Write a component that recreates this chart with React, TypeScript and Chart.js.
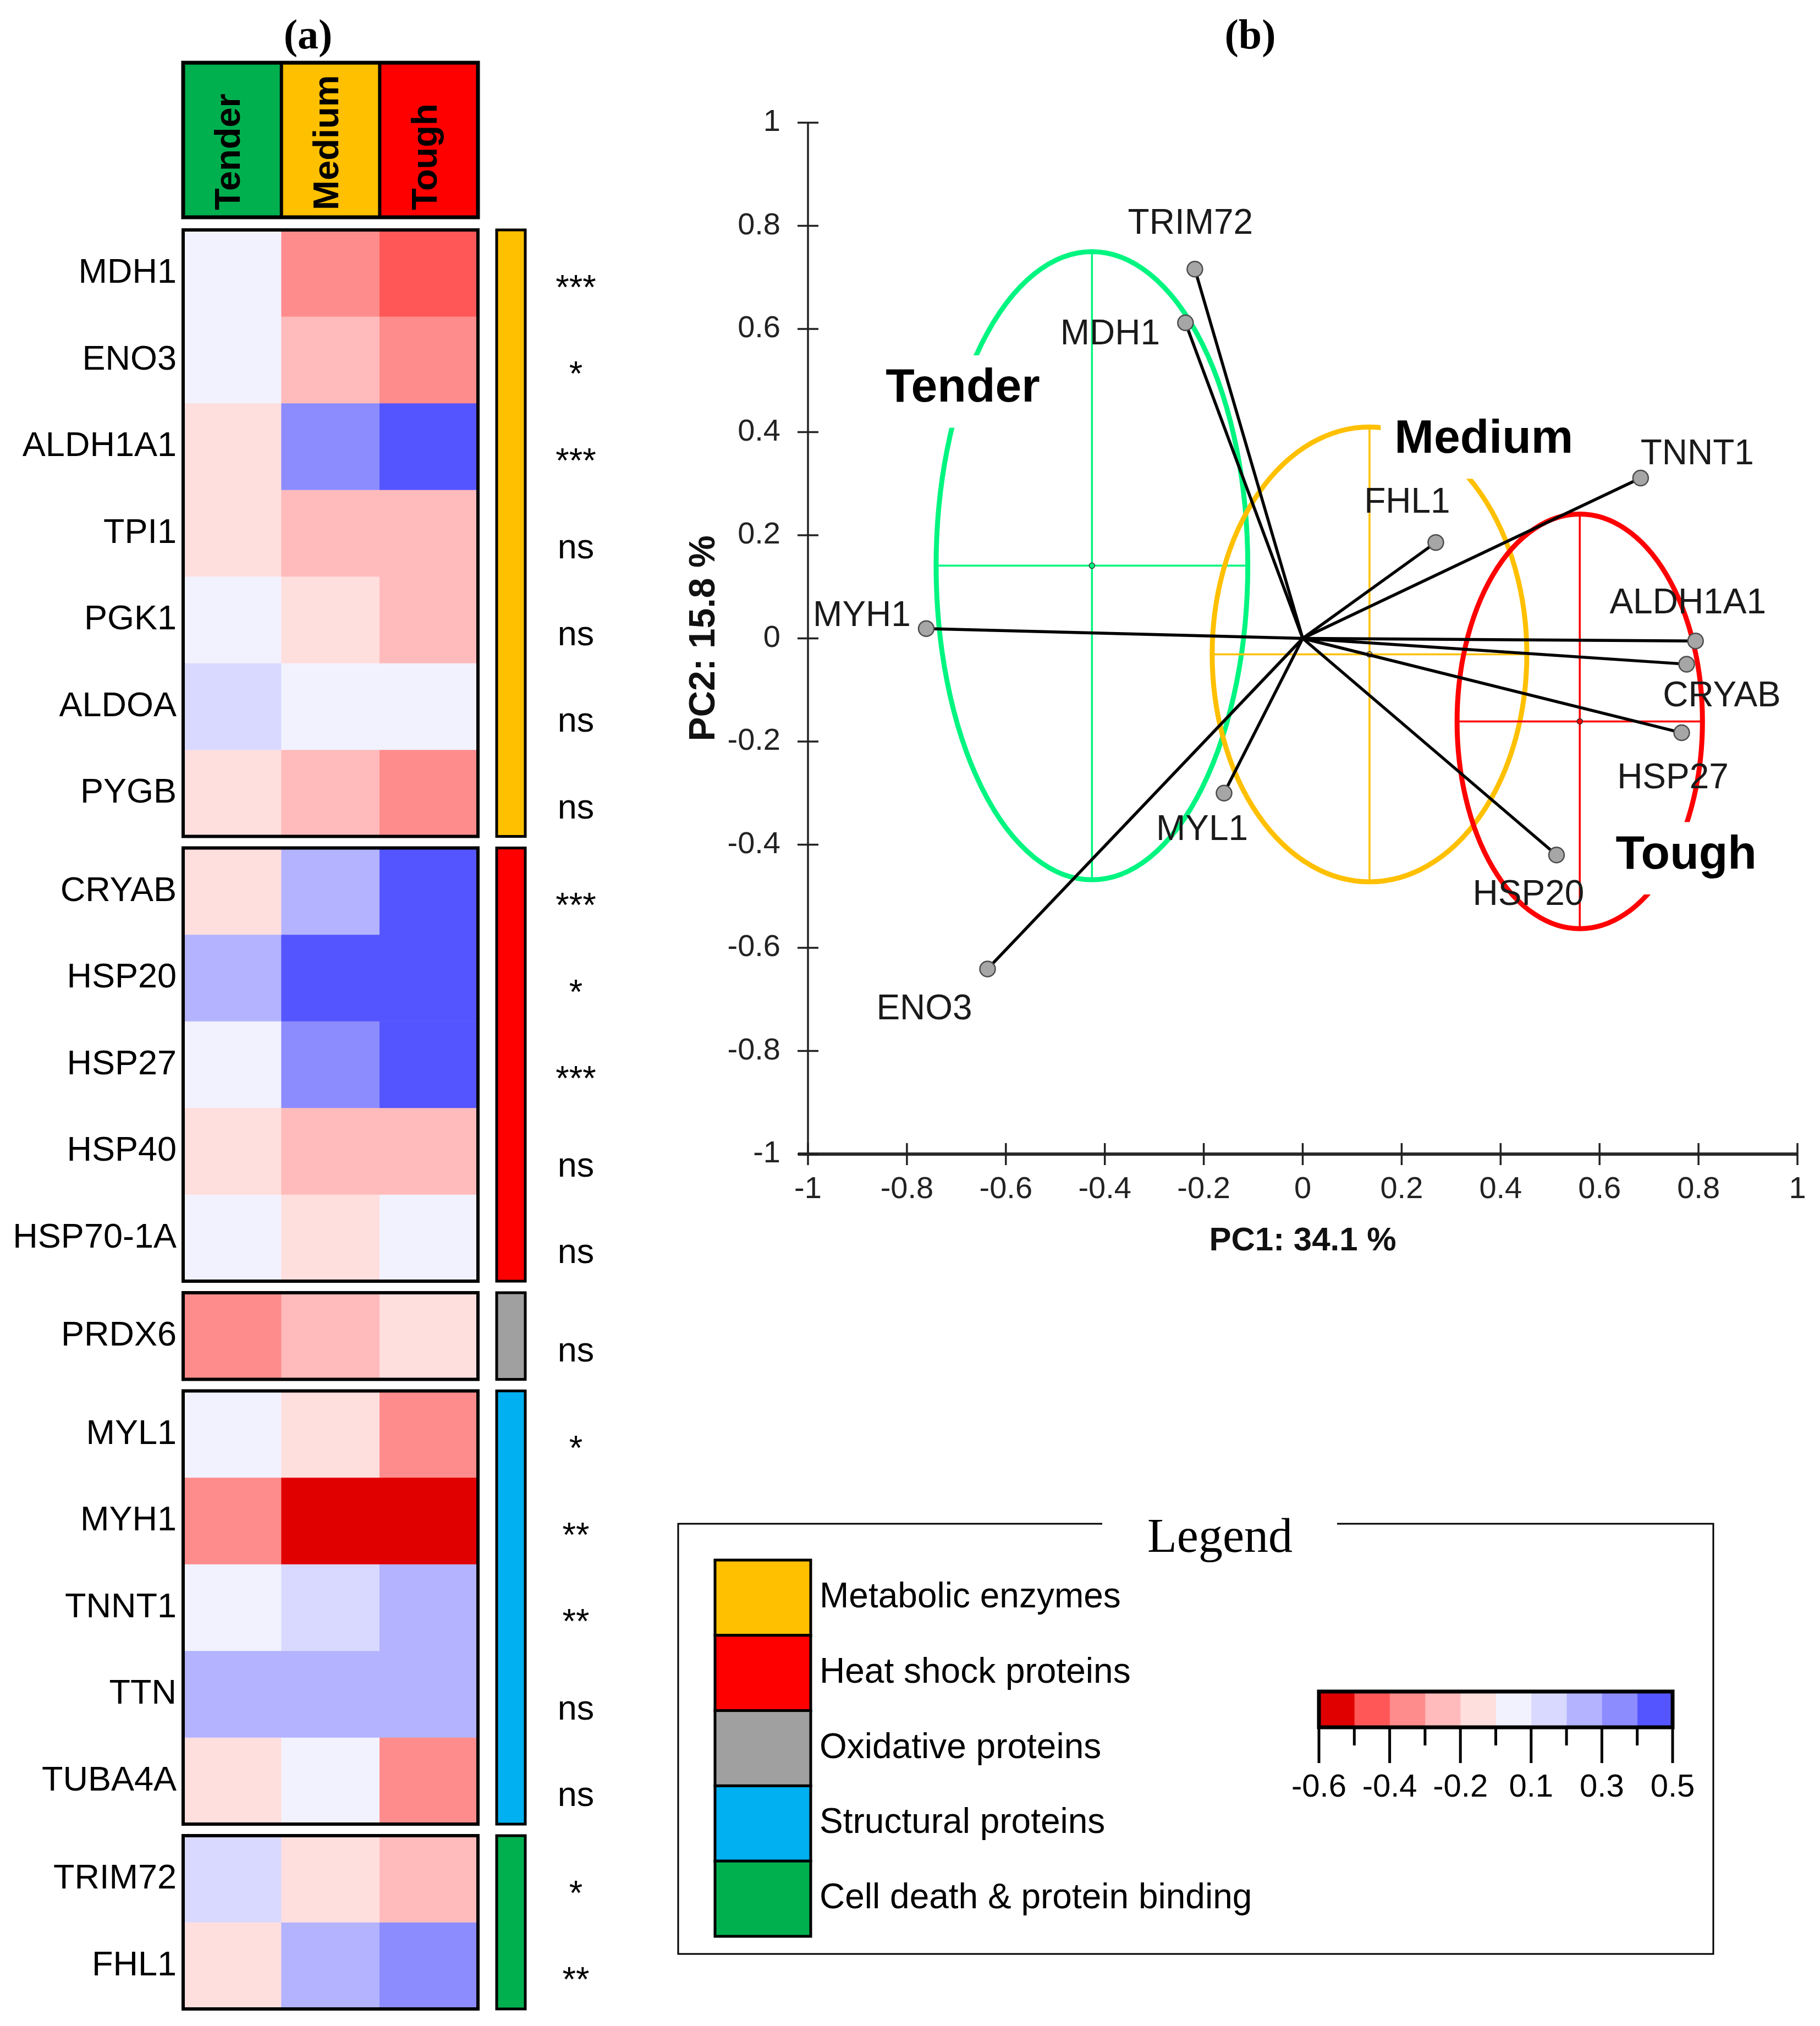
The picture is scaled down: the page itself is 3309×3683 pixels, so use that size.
import React, { useEffect, useRef } from 'react';
import { Chart, registerables } from 'chart.js';

Chart.register(...registerables);

const W = 3309;
const H = 3683;
const SANS = '"Liberation Sans", Arial, sans-serif';
const SERIF = '"Liberation Serif", "Times New Roman", serif';

// ---------------- Data: heatmap (a) ----------------
const conditions = ['Tender', 'Medium', 'Tough'];
const conditionColors = ['#00B04F', '#FFC000', '#FF0000'];
const genes = ['MDH1', 'ENO3', 'ALDH1A1', 'TPI1', 'PGK1', 'ALDOA', 'PYGB', 'CRYAB', 'HSP20', 'HSP27', 'HSP40', 'HSP70-1A', 'PRDX6', 'MYL1', 'MYH1', 'TNNT1', 'TTN', 'TUBA4A', 'TRIM72', 'FHL1'];
const tenderValues = [0.0, 0.02, -0.09, -0.08, 0.01, 0.1, -0.1, -0.08, 0.21, 0.01, -0.1, 0.0, -0.31, 0.02, -0.3, 0.03, 0.2, -0.09, 0.11, -0.1];
const mediumValues = [-0.32, -0.21, 0.33, -0.2, -0.1, 0.03, -0.21, 0.22, 0.44, 0.33, -0.2, -0.09, -0.2, -0.1, -0.55, 0.12, 0.21, 0.02, -0.08, 0.21];
const toughValues = [-0.45, -0.31, 0.46, -0.21, -0.2, 0.02, -0.32, 0.45, 0.47, 0.46, -0.2, 0.01, -0.1, -0.32, -0.56, 0.22, 0.2, -0.31, -0.2, 0.31];
const significance = ['***', '*', '***', 'ns', 'ns', 'ns', 'ns', '***', '*', '***', 'ns', 'ns', 'ns', '*', '**', '**', 'ns', 'ns', '*', '**'];
const geneGroup = [0, 0, 0, 0, 0, 0, 0, 1, 1, 1, 1, 1, 2, 3, 3, 3, 3, 3, 4, 4];
const groupNames = ['Metabolic enzymes', 'Heat shock proteins', 'Oxidative proteins', 'Structural proteins', 'Cell death & protein binding'];
const groupColors = ['#FFC000', '#FF0000', '#A0A0A0', '#00B0F0', '#00B04F'];

// colour scale
const colorBreaks = [-0.6, -0.49, -0.38, -0.27, -0.16, -0.05, 0.06, 0.17, 0.28, 0.39, 0.5];
const binColors = ['#E00000', '#FF5757', '#FF8C8C', '#FFBBBB', '#FFDEDE', '#F2F2FF', '#D9D9FF', '#B3B3FF', '#8C8CFF', '#5555FF'];
const colorbarLabels = ['-0.6', '-0.4', '-0.2', '0.1', '0.3', '0.5'];

// ---------------- Data: PCA biplot (b) ----------------
const pcaGenes = ['TRIM72', 'MDH1', 'TNNT1', 'FHL1', 'ALDH1A1', 'CRYAB', 'HSP27', 'HSP20', 'MYH1', 'MYL1', 'ENO3'];
const pc1 = [-0.218, -0.237, 0.683, 0.269, 0.794, 0.776, 0.766, 0.513, -0.761, -0.159, -0.637];
const pc2 = [0.716, 0.612, 0.311, 0.186, -0.005, -0.05, -0.183, -0.42, 0.019, -0.3, -0.641];
const groupCenterPC1 = [-0.426, 0.135, 0.56];
const groupCenterPC2 = [0.141, -0.031, -0.161];
const groupSpreadPC1 = [0.315, 0.318, 0.248];
const groupSpreadPC2 = [0.609, 0.441, 0.402];
const axisTicks = [-1, -0.8, -0.6, -0.4, -0.2, 0, 0.2, 0.4, 0.6, 0.8, 1];
const axisTickLabels = ['-1', '-0.8', '-0.6', '-0.4', '-0.2', '0', '0.2', '0.4', '0.6', '0.8', '1'];

// ---------------- Layout / style (not data) ----------------
const ellipseColors = ['#00F580', '#FFC000', '#FF0000'];
const groupLabelPC1 = [-0.687, 0.366, 0.775];
const groupLabelPC2 = [0.484, 0.385, -0.421];
const labelOffsetX = [-8, -137, 103, -52, -14, 64, -16, -51, -117, -40, -115];
const labelOffsetY = [-82, 22, -43, -72, -68, 59, 83, 73, -22, 68, 74];

const ROW_GAP = 21 / 157.5;
const HEADER_TOP = -1.93;
const HEADER_BOTTOM = -0.146;
const rowStart = genes.map((_, i) => i + geneGroup[i] * ROW_GAP);
const TOTAL_ROWS = genes.length + (groupNames.length - 1) * ROW_GAP;

function colorFor(v: number): string {
  for (let k = 0; k < binColors.length; k++) {
    if (v < colorBreaks[k + 1]) return binColors[k];
  }
  return binColors[binColors.length - 1];
}

// ---------------- Heatmap chart ----------------
const heatmapDecor = {
  id: 'heatmapDecor',
  afterDatasetsDraw(chart: any) {
    const ctx = chart.ctx as CanvasRenderingContext2D;
    const xs = chart.scales.x;
    const ys = chart.scales.y;
    const left = chart.chartArea.left;
    const right = chart.chartArea.right;
    ctx.save();
    ctx.strokeStyle = '#000';
    ctx.fillStyle = '#000';
    // header
    const hTop = ys.getPixelForValue(HEADER_TOP);
    const hBot = ys.getPixelForValue(HEADER_BOTTOM);
    ctx.lineWidth = 6;
    for (let i = 1; i < conditions.length; i++) {
      const bx = (xs.getPixelForValue(i - 1) + xs.getPixelForValue(i)) / 2;
      ctx.beginPath();
      ctx.moveTo(bx, hTop);
      ctx.lineTo(bx, hBot);
      ctx.stroke();
    }
    ctx.lineWidth = 7;
    ctx.strokeRect(left, hTop, right - left, hBot - hTop);
    ctx.font = `bold 65px ${SANS}`;
    conditions.forEach((c, i) => {
      const cx = xs.getPixelForValue(i) - 4;
      ctx.save();
      ctx.translate(cx, hBot - 13);
      ctx.rotate(-Math.PI / 2);
      ctx.textAlign = 'left';
      ctx.textBaseline = 'middle';
      ctx.fillText(c, 0, 0);
      ctx.restore();
    });
    // blocks + group bars
    groupNames.forEach((_, gi) => {
      const idx = genes.map((_g, i) => i).filter((i) => geneGroup[i] === gi);
      const y0 = ys.getPixelForValue(rowStart[idx[0]]);
      const y1 = ys.getPixelForValue(rowStart[idx[idx.length - 1]] + 1);
      ctx.lineWidth = 6;
      ctx.strokeRect(left, y0, right - left, y1 - y0);
      ctx.fillStyle = groupColors[gi];
      ctx.fillRect(right + 34, y0, 52, y1 - y0);
      ctx.lineWidth = 5;
      ctx.strokeRect(right + 34, y0, 52, y1 - y0);
    });
    // labels
    ctx.fillStyle = '#000';
    genes.forEach((g, i) => {
      const yc = ys.getPixelForValue(rowStart[i] + 0.5);
      ctx.font = `63px ${SANS}`;
      ctx.textAlign = 'right';
      ctx.textBaseline = 'middle';
      ctx.fillText(g, left - 12, yc);
      ctx.textAlign = 'center';
      ctx.textBaseline = 'alphabetic';
      ctx.fillText(significance[i], right + 178, yc + 46);
    });
    ctx.font = `bold 76px ${SERIF}`;
    ctx.textAlign = 'center';
    ctx.textBaseline = 'middle';
    ctx.fillText('(a)', 560, 68);
    ctx.restore();
  },
};

function makeHeatmap(canvas: HTMLCanvasElement) {
  const columns = [tenderValues, mediumValues, toughValues];
  const header = {
    label: 'header',
    data: conditions.map(() => [HEADER_TOP, HEADER_BOTTOM]),
    backgroundColor: conditionColors,
    borderWidth: 0,
    grouped: false,
    barPercentage: 1,
    categoryPercentage: 1,
  };
  const geneSets = genes.map((g, i) => ({
    label: g,
    data: conditions.map(() => [rowStart[i], rowStart[i] + 1]),
    backgroundColor: columns.map((col) => colorFor(col[i])),
    borderWidth: 0,
    grouped: false,
    barPercentage: 1,
    categoryPercentage: 1,
  }));
  return new Chart(canvas, {
    type: 'bar',
    data: { labels: conditions, datasets: [header, ...geneSets] as any },
    options: {
      responsive: false,
      animation: false,
      devicePixelRatio: 1,
      events: [],
      layout: { padding: { left: 333, right: W - 869, top: 114, bottom: H - 3652 } },
      plugins: { legend: { display: false }, tooltip: { enabled: false } },
      scales: {
        x: { type: 'category', display: false, offset: true },
        y: { type: 'linear', display: false, reverse: true, min: HEADER_TOP, max: TOTAL_ROWS },
      },
    } as any,
    plugins: [heatmapDecor],
  });
}

// ---------------- PCA chart ----------------
const pcaDecor = {
  id: 'pcaDecor',
  beforeDatasetsDraw(chart: any) {
    const ctx = chart.ctx as CanvasRenderingContext2D;
    const xs = chart.scales.x;
    const ys = chart.scales.y;
    ctx.save();
    // axes
    const ax = xs.getPixelForValue(-1);
    const ay = ys.getPixelForValue(-1);
    ctx.strokeStyle = '#222';
    ctx.lineWidth = 3.5;
    ctx.beginPath();
    ctx.moveTo(ax, ys.getPixelForValue(1));
    ctx.lineTo(ax, ay);
    ctx.stroke();
    ctx.lineWidth = 6;
    ctx.strokeStyle = '#2a2a2a';
    ctx.beginPath();
    ctx.moveTo(ax - 18, ay);
    ctx.lineTo(xs.getPixelForValue(1), ay);
    ctx.stroke();
    ctx.lineWidth = 3.5;
    ctx.strokeStyle = '#222';
    ctx.fillStyle = '#222';
    ctx.font = `56px ${SANS}`;
    axisTicks.forEach((t, i) => {
      const py = ys.getPixelForValue(t);
      ctx.beginPath();
      ctx.moveTo(ax - 19, py);
      ctx.lineTo(ax + 19, py);
      ctx.stroke();
      ctx.textAlign = 'right';
      ctx.textBaseline = 'middle';
      ctx.fillText(axisTickLabels[i], ax - 50, py);
      const px = xs.getPixelForValue(t);
      ctx.beginPath();
      ctx.moveTo(px, ay - 20);
      ctx.lineTo(px, ay + 20);
      ctx.stroke();
      ctx.textAlign = 'center';
      ctx.fillText(axisTickLabels[i], px, ay + 65);
    });
    ctx.fillStyle = '#111';
    ctx.font = `bold 60px ${SANS}`;
    ctx.textAlign = 'center';
    ctx.textBaseline = 'middle';
    ctx.fillText('PC1: 34.1 %', xs.getPixelForValue(0), ay + 158);
    ctx.save();
    ctx.translate(ax - 188, ys.getPixelForValue(0));
    ctx.rotate(-Math.PI / 2);
    ctx.font = `bold 66px ${SANS}`;
    ctx.fillText('PC2: 15.8 %', 0, 0);
    ctx.restore();

    // ellipses and crosshairs
    groupCenterPC1.forEach((cxv, g) => {
      const cyv = groupCenterPC2[g];
      const cx = xs.getPixelForValue(cxv);
      const cy = ys.getPixelForValue(cyv);
      const x0 = xs.getPixelForValue(cxv - groupSpreadPC1[g]);
      const x1 = xs.getPixelForValue(cxv + groupSpreadPC1[g]);
      const y0 = ys.getPixelForValue(cyv + groupSpreadPC2[g]);
      const y1 = ys.getPixelForValue(cyv - groupSpreadPC2[g]);
      ctx.strokeStyle = ellipseColors[g];
      ctx.lineWidth = 3.5;
      ctx.beginPath();
      ctx.moveTo(x0, cy);
      ctx.lineTo(x1, cy);
      ctx.moveTo(cx, y0);
      ctx.lineTo(cx, y1);
      ctx.stroke();
      ctx.lineWidth = 9;
      ctx.beginPath();
      ctx.ellipse(cx, cy, (x1 - x0) / 2, (y1 - y0) / 2, 0, 0, Math.PI * 2);
      ctx.stroke();
      ctx.fillStyle = ellipseColors[g];
      ctx.strokeStyle = '#333';
      ctx.lineWidth = 1.5;
      ctx.beginPath();
      ctx.arc(cx, cy, 5, 0, Math.PI * 2);
      ctx.fill();
      ctx.stroke();
    });

    // group labels on white boxes
    ctx.font = `bold 86px ${SANS}`;
    ctx.textAlign = 'center';
    ctx.textBaseline = 'middle';
    conditions.forEach((c, g) => {
      const px = xs.getPixelForValue(groupLabelPC1[g]);
      const py = ys.getPixelForValue(groupLabelPC2[g]);
      const w = ctx.measureText(c).width;
      const capH = 0.716 * 86;
      ctx.fillStyle = '#fff';
      ctx.fillRect(px - w / 2 - 25, py - capH / 2 - 30, w + 50, capH + 70);
      ctx.fillStyle = '#000';
      ctx.fillText(c, px, py);
    });
    ctx.restore();
  },
  afterDatasetsDraw(chart: any) {
    const ctx = chart.ctx as CanvasRenderingContext2D;
    const xs = chart.scales.x;
    const ys = chart.scales.y;
    ctx.save();
    ctx.fillStyle = '#1a1a1a';
    ctx.font = `64px ${SANS}`;
    ctx.textAlign = 'center';
    ctx.textBaseline = 'middle';
    pcaGenes.forEach((g, i) => {
      const px = xs.getPixelForValue(pc1[i]) + labelOffsetX[i];
      const py = ys.getPixelForValue(pc2[i]) + labelOffsetY[i];
      ctx.fillText(g, px, py);
    });
    ctx.fillStyle = '#000';
    ctx.font = `bold 76px ${SERIF}`;
    ctx.fillText('(b)', 2273, 68);
    ctx.restore();
  },
};

function makePca(canvas: HTMLCanvasElement) {
  const vectors = pcaGenes.map((g, i) => ({
    type: 'line',
    label: g,
    data: [{ x: 0, y: 0 }, { x: pc1[i], y: pc2[i] }],
    borderColor: '#000',
    borderWidth: 5.5,
    pointRadius: 0,
    fill: false,
    tension: 0,
    order: 2,
    clip: false,
  }));
  const points = {
    type: 'scatter',
    label: 'loadings',
    data: pcaGenes.map((_g, i) => ({ x: pc1[i], y: pc2[i] })),
    pointRadius: 14,
    pointBackgroundColor: '#A6A6A6',
    pointBorderColor: '#4D4D4D',
    pointBorderWidth: 2.5,
    order: 1,
    clip: false,
  };
  return new Chart(canvas, {
    type: 'scatter',
    data: { datasets: [points, ...vectors] as any },
    options: {
      responsive: false,
      animation: false,
      devicePixelRatio: 1,
      events: [],
      layout: { padding: { left: 1469, right: W - 3268, top: 223, bottom: H - 2098 } },
      plugins: { legend: { display: false }, tooltip: { enabled: false } },
      scales: {
        x: { type: 'linear', display: false, min: -1, max: 1 },
        y: { type: 'linear', display: false, min: -1, max: 1 },
      },
    } as any,
    plugins: [pcaDecor],
  });
}

// ---------------- Legend + colour scale chart ----------------
const legendDecor = {
  id: 'legendDecor',
  afterDatasetsDraw(chart: any) {
    const ctx = chart.ctx as CanvasRenderingContext2D;
    const xs = chart.scales.x;
    const a = chart.chartArea;
    ctx.save();
    // legend frame
    ctx.strokeStyle = '#000';
    ctx.lineWidth = 3;
    ctx.strokeRect(1233, 2770, 1882, 782);
    ctx.fillStyle = '#fff';
    ctx.fillRect(2004, 2760, 427, 20);
    ctx.fillStyle = '#000';
    ctx.font = `88px ${SERIF}`;
    ctx.textAlign = 'center';
    ctx.textBaseline = 'middle';
    ctx.fillText('Legend', 2218, 2798);
    // swatches
    const rowH = 136.8;
    groupNames.forEach((g, i) => {
      const y = 2836 + i * rowH;
      ctx.fillStyle = groupColors[i];
      ctx.fillRect(1300, y, 174, rowH);
      ctx.lineWidth = 5;
      ctx.strokeStyle = '#000';
      ctx.strokeRect(1300, y, 174, rowH);
      ctx.fillStyle = '#000';
      ctx.font = `64px ${SANS}`;
      ctx.textAlign = 'left';
      ctx.textBaseline = 'middle';
      ctx.fillText(g, 1490, y + rowH / 2);
    });
    // colour bar frame & ticks
    ctx.lineWidth = 7;
    ctx.strokeRect(a.left, a.top, a.right - a.left, a.bottom - a.top);
    ctx.lineWidth = 5;
    ctx.font = `58px ${SANS}`;
    ctx.textAlign = 'center';
    ctx.textBaseline = 'middle';
    colorBreaks.forEach((b, k) => {
      const px = xs.getPixelForValue(b);
      ctx.beginPath();
      ctx.moveTo(px, a.bottom);
      ctx.lineTo(px, a.bottom + (k % 2 === 0 ? 65 : 33));
      ctx.stroke();
      if (k % 2 === 0) ctx.fillText(colorbarLabels[k / 2], px, a.bottom + 110);
    });
    ctx.restore();
  },
};

function makeScale(canvas: HTMLCanvasElement) {
  const bins = binColors.map((c, i) => ({
    label: `bin${i}`,
    data: [[colorBreaks[i], colorBreaks[i + 1]]],
    backgroundColor: c,
    borderWidth: 0,
    grouped: false,
    barPercentage: 1,
    categoryPercentage: 1,
  }));
  return new Chart(canvas, {
    type: 'bar',
    data: { labels: ['scale'], datasets: bins as any },
    options: {
      indexAxis: 'y',
      responsive: false,
      animation: false,
      devicePixelRatio: 1,
      events: [],
      layout: { padding: { left: 2398, right: W - 3041, top: 3075, bottom: H - 3140 } },
      plugins: { legend: { display: false }, tooltip: { enabled: false } },
      scales: {
        x: { type: 'linear', display: false, min: colorBreaks[0], max: colorBreaks[colorBreaks.length - 1] },
        y: { type: 'category', display: false, offset: true },
      },
    } as any,
    plugins: [legendDecor],
  });
}

export default function App() {
  const refA = useRef<HTMLCanvasElement>(null);
  const refB = useRef<HTMLCanvasElement>(null);
  const refC = useRef<HTMLCanvasElement>(null);

  useEffect(() => {
    const charts = [makeHeatmap(refA.current!), makePca(refB.current!), makeScale(refC.current!)];
    return () => charts.forEach((c) => c.destroy());
  }, []);

  const cs: React.CSSProperties = { position: 'absolute', left: 0, top: 0, width: W, height: H };
  return (
    <div style={{ position: 'absolute', left: 0, top: 0, width: W, height: H, background: '#fff', overflow: 'hidden' }}>
      <canvas ref={refA} width={W} height={H} style={cs} />
      <canvas ref={refB} width={W} height={H} style={cs} />
      <canvas ref={refC} width={W} height={H} style={cs} />
    </div>
  );
}
